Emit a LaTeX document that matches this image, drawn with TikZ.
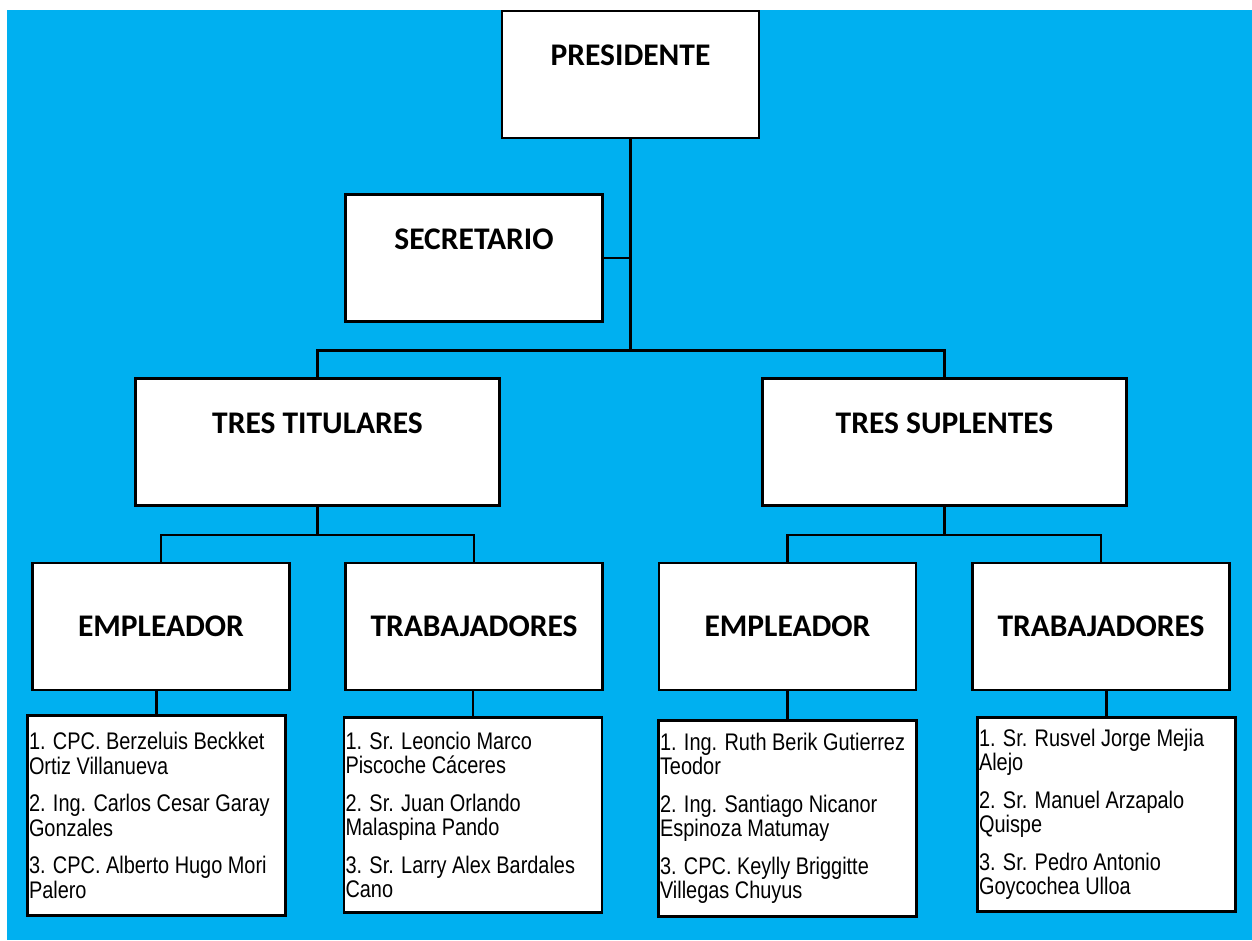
\documentclass[tikz,border=0pt]{standalone}
\usepackage{fontspec}
\setmainfont{Carlito}
\newfontfamily\listfont[FakeStretch=0.83]{Liberation Sans}
\usetikzlibrary{calc, positioning}
\definecolor{chartblue}{RGB}{0,176,240}

\begin{document}
\begin{tikzpicture}[x=1pt, y=-1pt]
	\tikzset{box/.style={draw, line width=2.6pt, fill=white, minimum width=257pt, minimum height=127pt, inner sep=0pt, font=\fontsize{31.5}{36}\selectfont\bfseries}}
	\tikzset{headbox/.style={box, text depth=38pt}} %title sits in upper half
	\tikzset{namebox/.style={draw, line width=2.6pt, fill=white, minimum width=258pt, text width=255pt, inner xsep=1.5pt, inner ysep=0pt, align=flush left, font=\listfont\fontsize{24}{24.5}\selectfont}}
	\tikzset{link/.style={draw, line width=2.5pt}}
	\useasboundingbox (0,0) rectangle (1252,940);
	\fill[chartblue] (7,10) rectangle (1252,940);
	% boxes
	\node[headbox] (pres) at (630.5,74.5) {PRESIDENTE};
	\node[headbox] (sec) at (474,258) {SECRETARIO};
	\node[headbox, minimum width=364pt] (tit) at (317.5,442) {TRES TITULARES};
	\node[headbox, minimum width=364pt] (sup) at (944.5,442) {TRES SUPLENTES};
	\node[box] (empA) at (161,626.5) {EMPLEADOR};
	\node[box] (trabA) at (474,626.5) {TRABAJADORES};
	\node[box] (empB) at (787.5,626.5) {EMPLEADOR};
	\node[box] (trabB) at (1101,626.5) {TRABAJADORES};
	% members
	\node[namebox, minimum height=200pt] (listA) at (156.5,815.5) {1. CPC. Berzeluis Beckket\\Ortiz Villanueva\\[13pt]2. Ing. Carlos Cesar Garay\\Gonzales\\[13pt]3. CPC. Alberto Hugo Mori\\Palero};
	\node[namebox, minimum height=195pt] (listB) at (473,815) {1. Sr. Leoncio Marco\\Piscoche Cáceres\\[13pt]2. Sr. Juan Orlando\\Malaspina Pando\\[13pt]3. Sr. Larry Alex Bardales\\Cano};
	\node[namebox, minimum height=196pt] (listC) at (787.5,818.5) {1. Ing. Ruth Berik Gutierrez\\Teodor\\[13pt]2. Ing. Santiago Nicanor\\Espinoza Matumay\\[13pt]3. CPC. Keylly Briggitte\\Villegas Chuyus};
	\node[namebox, minimum height=194pt] (listD) at (1106.5,814.5) {1. Sr. Rusvel Jorge Mejia\\Alejo\\[13pt]2. Sr. Manuel Arzapalo\\Quispe\\[13pt]3. Sr. Pedro Antonio\\Goycochea Ulloa};
	% connectors
	\draw[link] (pres.south) -- ++(0,211) -| (tit.north);
	\draw[link] (pres.south) -- ++(0,211) -| (sup.north);
	\draw[link] (sec.east) -- (sec.east -| pres.south);
	\draw[link] (tit.south) -- ++(0,28) -| (empA.north);
	\draw[link] (tit.south) -- ++(0,28) -| (trabA.north);
	\draw[link] (sup.south) -- ++(0,28) -| (empB.north);
	\draw[link] (sup.south) -- ++(0,28) -| (trabB.north);
	\foreach \up/\low in {empA/listA, trabA/listB, empB/listC, trabB/listD}
		\draw[link] (\low.north) -- (\low.north |- \up.south);
\end{tikzpicture}
\end{document}
